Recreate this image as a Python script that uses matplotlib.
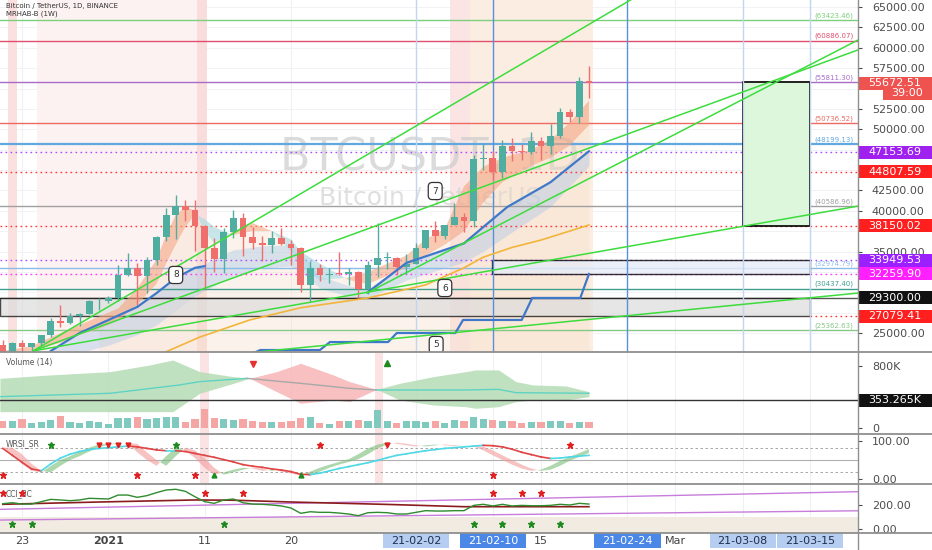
import numpy as np
import matplotlib
matplotlib.use("Agg")
import matplotlib.pyplot as plt
import matplotlib.transforms as mtransforms
from matplotlib.patches import Rectangle
from matplotlib.lines import Line2D

# ---- daily candles, index 0 = 2020-12-21 ----
opens = [23475, 22720, 23811, 23232, 23729, 24712, 26493, 26282, 27079, 27385, 28876, 28924, 29332,
         32176, 33000, 31990, 33950, 36769, 39432, 40587, 40088, 38150, 35410, 34049, 37371, 39145,
         36737, 35995, 35825, 36622, 35902, 35468, 30852, 32950, 32078, 32259, 32254, 32464, 30362,
         33368, 34246, 34263, 33093, 33517, 35473, 37620, 36937, 38289, 39181, 38796, 46374, 46420,
         44808, 47969, 47298, 47157, 48580, 47911, 49133, 52118, 51553, 55906]
highs = [24103, 23837, 24100, 23790, 24790, 26867, 28422, 27500, 27410, 28996, 29300, 29600, 33300,
         34778, 33600, 34360, 36939, 40365, 41950, 41380, 41350, 38265, 36628, 37850, 40100, 39748,
         37950, 36853, 37470, 37850, 36415, 35600, 33827, 33456, 32944, 34882, 32922, 32557, 33784,
         38532, 34933, 34343, 34717, 35984, 37663, 38708, 38310, 40956, 39700, 46794, 48142, 47310,
         48679, 48986, 48150, 49707, 49011, 50603, 52619, 52530, 56368, 57700]
lows = [21815, 22353, 22600, 22703, 23434, 24500, 25700, 26101, 25880, 27320, 27850, 28625, 28947,
        31963, 28130, 29900, 33288, 36300, 36500, 38720, 35111, 30420, 32531, 32380, 36701, 34408,
        35358, 33850, 34800, 35844, 33400, 30071, 28850, 31390, 31106, 32068, 30837, 29242, 29842,
        31915, 32825, 32172, 32296, 33418, 35362, 36162, 36570, 38216, 37351, 37989, 44961, 43727,
        43994, 46125, 46203, 47014, 46175, 47004, 48947, 50902, 50710, 53864]
closes = [22720, 23811, 23233, 23729, 24712, 26493, 26282, 27079, 27385, 28876, 28924, 29332, 32178,
          33000, 31989, 33950, 36769, 39432, 40583, 40088, 38150, 35404, 34051, 37371, 39145, 36742,
          35995, 35829, 36631, 35891, 35468, 30850, 32945, 32078, 32260, 32254, 32468, 30366, 33365,
          34252, 34263, 33093, 33526, 35466, 37619, 36937, 38290, 39187, 38796, 46375, 46420, 44808,
          47970, 47288, 47154, 48578, 47911, 49133, 52120, 51553, 55906, 55673]
volume_k = [86, 90, 112, 65, 73, 95, 147, 73, 65, 90, 78, 48, 121, 121, 138, 112, 125, 134, 134, 73,
            108, 241, 121, 117, 99, 112, 86, 69, 69, 78, 86, 125, 138, 56, 52, 86, 86, 95, 86, 228,
            86, 60, 82, 82, 78, 90, 65, 99, 86, 134, 112, 99, 82, 82, 60, 69, 69, 86, 86, 60, 73, 73]

# ---- overlays (day index, price) ----
rib_days = [0, 3, 6, 8, 10, 12, 14, 16, 17, 18, 19, 20, 21, 22, 24, 26, 28, 30, 31, 33, 36, 38, 40,
            42, 44, 46, 48, 50, 52, 55, 57, 59, 61]
rib_fast = [22800, 23400, 25000, 26000, 27000, 28000, 30500, 34000, 37000, 39500, 40500, 40000, 37500,
            36000, 37500, 38500, 37500, 35000, 33000, 31500, 31800, 32500, 33500, 34500, 36500, 37800,
            43000, 45400, 46500, 47500, 48700, 50800, 53500]
rib_slow = [22500, 22800, 23800, 24800, 25500, 26500, 28500, 31000, 33500, 35800, 38000, 39500, 39000,
            38000, 37000, 37500, 37500, 36500, 35000, 33500, 31500, 31000, 32000, 33000, 34500, 35800,
            37500, 41000, 43500, 45500, 46500, 48000, 50500]

blue_days1 = [5, 8, 11, 14, 16, 18, 20, 21]
blue_vals1 = [22800, 25000, 26600, 28200, 29900, 31750, 33000, 33200]
blue_days2 = [38, 42, 48, 50, 52.5, 57, 61]
blue_vals2 = [30000, 33600, 36000, 38000, 40460, 43500, 47300]
cloud_days = [3, 5, 8, 11, 14, 16, 18, 20, 21, 24, 27, 30, 31, 33, 36, 38, 42, 48, 50, 52.5, 57, 61]
cloud_top = [22000, 22800, 25000, 26600, 28200, 29900, 31750, 33000, 33500, 35200, 35700, 35800, 34800,
             32000, 30800, 30400, 33600, 36000, 38000, 40460, 43500, 47300]
cloud_bot = [21500, 21800, 22600, 23500, 24800, 26000, 27800, 29500, 30200, 32000, 33000, 33200, 32500,
             30500, 29500, 29200, 31500, 33700, 35000, 37000, 40500, 45500]

yel_days = [17, 20.5, 25.7, 31, 38, 44, 48, 50, 53, 56, 61]
yel_vals = [22700, 24500, 26600, 28100, 29300, 30900, 33000, 34300, 35500, 36400, 38250]

step_days = [26.0, 26.8, 33.0, 34.05, 40.1, 41.0, 47.1, 47.9, 54.0, 55.1, 60.1, 61.0]
step_vals = [22500, 22910, 22910, 23890, 23890, 25000, 25000, 26600, 26600, 29300, 29300, 32240]

# green trend rays: start point and a second point on the line
trend_start = [(3.15, 22800), (3.15, 22800), (3.15, 22800), (37.9, 29910), (20.0, 21923)]
trend_thru = [(48.2, 54000), (48.2, 42180), (48.2, 32125), (89.0, 60950), (89.0, 29900)]

level_vals = [63423.46, 60886.07, 55811.30, 50736.52, 48199.13, 40586.96, 32974.79, 30437.40, 25362.63]
level_colors = ['#7ccf7c', '#e0506e', '#a86cc8', '#ec6a62', '#62a8e0', '#a0a0a0', '#8bbbe8', '#3f9f8f',
                '#86c986']
dot_vals = [47153.69, 44807.59, 38150.02, 33949.53, 32259.90]
dot_colors = ['#a64dff', '#ff3333', '#ff3333', '#a64dff', '#ff33ff']

tag_vals = [55672.51, 47153.69, 44807.59, 38150.02, 33949.53, 32259.90, 29300.00, 27079.41]
tag_colors = ['#ef5350', '#a020f0', '#ff1f1f', '#ff1f1f', '#9b1fff', '#ff20ff', '#111111', '#ff1f1f']

callout_text = ['8', '7', '6', '5']
callout_pos = [(18.0, 32120), (45.0, 42420), (46.0, 30520), (45.1, 23530)]

# volume oscillator band (K), three zones
vb_g1_days = [-0.3, 4.9, 11.2, 15.3, 17.7, 20.5, 24.0, 25.7]
vb_g1_up = [641, 685, 728, 815, 879, 728, 663, 641]
vb_g1_lo = [208, 208, 208, 208, 208, 447, 576, 641]
vb_r_days = [25.7, 28.5, 31.0, 34.4, 36.1, 38.9]
vb_r_up = [641, 728, 836, 685, 598, 498]
vb_r_lo = [641, 468, 317, 360, 338, 498]
vb_g2_days = [38.9, 41.3, 44.8, 48.2, 49.2, 51.6, 53.4, 55.2, 58.6, 61.0]
vb_g2_up = [498, 576, 663, 728, 750, 750, 598, 555, 542, 468]
vb_g2_lo = [498, 360, 295, 273, 252, 273, 338, 360, 360, 403]
vc_days = [-0.3, 11.2, 18.4, 20.5, 25.4, 31.0, 36.1, 38.9, 48.2, 51.6, 53.4, 61.0]
vc_vals = [403, 447, 555, 598, 641, 576, 511, 490, 490, 498, 455, 447]

# WRSI
wrsi_slow = [80, 62, 44, 27, 22, 40, 55, 65, 72, 77, 80, 82, 84, 86, 84, 80, 76, 74, 74, 72, 67, 62,
             57, 51, 45, 38, 34, 31, 27, 24, 20, 13, 12, 16, 22, 28, 33, 38, 43, 49, 56, 62, 66, 70,
             74, 77, 80, 82, 84, 86, 88, 87, 84, 78, 70, 64, 58, 54, 55, 58, 60, 62]
wrsi_fast = [82, 65, 40, 22, 18, 35, 50, 60, 72, 82, 90, 92, 93, 92, 70, 50, 35, 60, 82, 75, 55, 30,
             12, 18, 25, 30, 28, 22, 25, 20, 15, 10, 20, 30, 38, 45, 52, 65, 80, 90, 95, 92, 88, 85,
             88, 90, 88, 86, 86, 85, 75, 62, 50, 38, 28, 22, 25, 35, 48, 58, 68, 78]

# CCI
cci_vals = [211, 219, 208, 208, 228, 247, 242, 236, 242, 256, 253, 250, 283, 283, 264, 278, 303, 325,
            331, 314, 269, 228, 214, 242, 250, 219, 208, 206, 200, 192, 175, 131, 144, 139, 139, 133,
            125, 111, 136, 139, 136, 125, 125, 139, 153, 150, 150, 153, 153, 197, 206, 192, 206, 192,
            197, 194, 194, 197, 206, 200, 214, 208]
sig_days = [0, 10, 20, 24, 30, 40, 48, 61]
sig_vals = [206, 225, 242, 240, 225, 205, 186, 186]

# date axis
tick_days = [2, 11, 21, 30, 43, 51, 56, 65, 70, 77, 84]
tick_text = ['23', '2021', '11', '20', '21-02-02', '21-02-10', '15', '21-02-24', 'Mar', '21-03-08',
             '21-03-15']

# price scale ticks left visible next to the coloured tags
price_ticks = [25000, 35000, 40000, 42500, 50000, 52500, 57500, 60000, 62500, 65000]

W, H = 932, 550
XMIN, XMAX = -0.29, 89.0
UP, DOWN = '#4fae9f', '#ef6f6c'


def px_rect(x0, y0, x1, y1):
    return [x0 / W, 1 - y1 / H, (x1 - x0) / W, (y1 - y0) / H]


def setup(a, ylim, yticks, ylabels):
    a.set_xlim(XMIN, XMAX)
    a.set_ylim(*ylim)
    for s in a.spines.values():
        s.set_visible(False)
    a.set_xticks([])
    a.yaxis.tick_right()
    a.set_yticks(yticks)
    a.set_yticklabels(ylabels)
    a.tick_params(axis='y', labelsize=8, colors='#4d4d4d', length=3, pad=7)
    for d in tick_days:
        a.axvline(d, color='#eef0f4', lw=0.8, zorder=0)


def tag(a, val, text, bg, h, x0=1.0, fg='white'):
    tr = mtransforms.blended_transform_factory(a.transAxes, a.transData)
    a.add_patch(Rectangle((x0, val - h / 2), 1.0862 - x0, h, transform=tr, fc=bg, ec='none',
                          clip_on=False, zorder=10))
    a.text((x0 + 1.0862) / 2, val, text, transform=tr, color=fg, fontsize=8, ha='center',
           va='center', clip_on=False, zorder=11)


fig = plt.figure(figsize=(W / 100, H / 100), dpi=100)
ax = fig.add_axes(px_rect(0, 0, 858, 352))
axv = fig.add_axes(px_rect(0, 352, 858, 434))
axr = fig.add_axes(px_rect(0, 434, 858, 484))
axc = fig.add_axes(px_rect(0, 484, 858, 533))

idx = np.arange(len(closes))
o, hi, lo, c = map(np.array, (opens, highs, lows, closes))
cols = np.where(c >= o, UP, DOWN)

# ---------------- main price panel ----------------
setup(ax, (22669, 65859), price_ticks, [f'{p:.2f}' for p in price_ticks])
for p in np.arange(25000, 65001, 2500):
    ax.axhline(p, color='#f0f2f6', lw=0.7, zorder=0)

for x0, x1, col in [(0.5, 1.5, '#fbe0e0'), (3.6, 20.2, '#fdf2f2'), (20.2, 21.2, '#f9dcdc'),
                    (46.5, 48.6, '#fbe4e4'), (48.6, 61.4, '#fcede3')]:
    ax.axvspan(x0, x1, color=col, lw=0, zorder=0)

ax.text(44.45, 46595, 'BTCUSDT, 1D', fontsize=32, color='#cccccc', alpha=0.7, ha='center',
        va='center', zorder=1)
ax.text(44.45, 41687, 'Bitcoin / TetherUS', fontsize=18, color='#d2d2d2', alpha=0.7, ha='center',
        va='center', zorder=1)

# beige cloud under the ribbon
ax.fill_between(rib_days[4:], rib_slow[4:], 22669, color='#f6dfc6', alpha=0.35, lw=0, zorder=1)
ax.fill_between(cloud_days, cloud_top, cloud_bot, color='#a9c6e8', alpha=0.42, lw=0, zorder=1.2)

for v, col in zip(level_vals, level_colors):
    ax.axhline(v, color=col, lw=1.6 if v == 48199.13 else 1.0, zorder=2)
    ax.text(86.5, v + 150, f'({v:.2f})', color=col, fontsize=5, ha='center', va='bottom', zorder=2)
for v, col in zip(dot_vals, dot_colors):
    ax.axhline(v, color=col, lw=1.0, ls=(0, (1.2, 2.4)), zorder=2)
ax.plot([84, XMAX], [27079.41, 27079.41], color='#ff3333', lw=1.0, ls=(0, (1.2, 2.4)), zorder=2)
ax.axhline(29300, color='#555555', lw=1.0, zorder=2)

ax.add_patch(Rectangle((XMIN, 27079.41), 84 - XMIN, 29300 - 27079.41, fc='#dcdcdc', alpha=0.7,
                       ec='black', lw=1, zorder=2))
ax.add_patch(Rectangle((50.9, 32259.90), 84 - 50.9, 33949.53 - 32259.90, fc='#e6ecf8', alpha=0.8,
                       ec='black', lw=1, zorder=2))
ax.add_patch(Rectangle((77, 38150.02), 7, 55811.30 - 38150.02, fc='#dcf7dc', ec='black', lw=1.2,
                       zorder=2))

for d, col in [(43, '#c2d6f2'), (51, '#5b8fd9'), (65, '#5b8fd9'), (77, '#c2d6f2'), (84, '#c2d6f2')]:
    ax.axvline(d, color=col, lw=1, zorder=2)

rf, rs = np.array(rib_fast), np.array(rib_slow)
ax.fill_between(rib_days, rf, rs, where=rf >= rs, interpolate=True, color='#f5a57f', alpha=0.6, lw=0,
                zorder=2.5)
ax.fill_between(rib_days, rf, rs, where=rf < rs, interpolate=True, color='#a6dce8', alpha=0.6, lw=0,
                zorder=2.5)

ax.vlines(idx, lo, hi, colors=cols, lw=1, zorder=3)
ax.bar(idx, np.maximum(np.abs(c - o), 100), bottom=np.minimum(o, c), width=0.7, color=cols, zorder=3.1)

ax.plot(blue_days1, blue_vals1, color='#3f78c8', lw=1.6, zorder=3.5)
ax.plot(blue_days2, blue_vals2, color='#3f78c8', lw=1.6, zorder=3.5)
ax.plot(yel_days, yel_vals, color='#f2b53a', lw=1.2, zorder=3.5)
ax.plot(step_days, step_vals, color='#3f78c8', lw=1.6, zorder=3.5)

for (xa, ya), (xb, yb) in zip(trend_start, trend_thru):
    k = (yb - ya) / (xb - xa)
    ax.plot([xa, XMAX], [ya, ya + k * (XMAX - xa)], color='#3ddc3d', lw=1.1, zorder=4)

for t, (x, y) in zip(callout_text, callout_pos):
    ax.text(x, y, t, fontsize=6.5, color='#333333', ha='center', va='center', zorder=5,
            bbox=dict(boxstyle='round,pad=0.45', fc='white', ec='#333333', lw=0.9))

for v, col in zip(tag_vals, tag_colors):
    tag(ax, v, f'{v:.2f}', col, 1595)
tag(ax, 54410, '39:00', '#ef5350', 1595, x0=883 / 858)

fig.text(6 / W, 1 - 6 / H, 'Bitcoin / TetherUS, 1D, BINANCE', fontsize=5, color='#333333', va='center')
fig.text(6 / W, 1 - 13.5 / H, 'MRHAB-B (1W)', fontsize=5, color='#333333', va='center')

# ---------------- volume panel ----------------
setup(axv, (-82, 983), [0, 800], ['0', '800K'])
for x0, x1 in [(20.5, 21.5), (38.7, 39.6)]:
    axv.axvspan(x0, x1, color='#fbe3e3', lw=0, zorder=0)
axv.fill_between(vb_g1_days, vb_g1_up, vb_g1_lo, color='#b5dcb5', alpha=0.85, lw=0, zorder=1)
axv.fill_between(vb_r_days, vb_r_up, vb_r_lo, color='#f7b5b5', alpha=0.85, lw=0, zorder=1)
axv.fill_between(vb_g2_days, vb_g2_up, vb_g2_lo, color='#b5dcb5', alpha=0.85, lw=0, zorder=1)
axv.plot(vc_days[:5], vc_vals[:5], color='#5fd3c3', lw=1, zorder=2)
axv.plot(vc_days[4:8], vc_vals[4:8], color='#a8a8a8', lw=1, zorder=2)
axv.plot(vc_days[7:], vc_vals[7:], color='#5fd3c3', lw=1, zorder=2)
axv.axhline(353.265, color='#333333', lw=1, zorder=2)
axv.bar(idx, volume_k, width=0.75, color=np.where(c >= o, '#80c9bf', '#f4a6a4'), zorder=3)
axv.plot([26], [827], marker='v', color='#e53030', ms=4, zorder=4)
axv.plot([40], [836], marker='^', color='#1e8a1e', ms=4, zorder=4)
axv.text(0.007, 0.93, 'Volume (14)', transform=axv.transAxes, fontsize=5.5, color='#555555', va='top')
tag(axv, 353.265, '353.265K', '#111111', 169)

# ---------------- WRSI panel ----------------
setup(axr, (-12.1, 117.3), [0, 100], ['0.00', '100.00'])
for x0, x1 in [(20.5, 21.5), (38.7, 39.6)]:
    axr.axvspan(x0, x1, color='#fbe3e3', lw=0, zorder=0)
axr.axhline(80, color='#9a9a9a', lw=0.6, ls=(0, (3, 3)), zorder=1)
axr.axhline(20, color='#9a9a9a', lw=0.6, ls=(0, (3, 3)), zorder=1)
axr.axhline(50, color='#b0b0b0', lw=0.8, zorder=1)
wf = np.array(wrsi_fast)
wf_lag = np.r_[wf[0], wf[:-1]]
axr.fill_between(idx, wf, wf_lag, where=wf >= wf_lag, interpolate=True, color='#79bd79', alpha=0.6,
                 lw=0, zorder=2)
axr.fill_between(idx, wf, wf_lag, where=wf < wf_lag, interpolate=True, color='#f19a9a', alpha=0.6,
                 lw=0, zorder=2)
ws = np.array(wrsi_slow)
for i in range(len(ws) - 1):
    col = '#4fd8e6' if ws[i + 1] >= ws[i] else '#e04444'
    axr.plot(idx[i:i + 2], ws[i:i + 2], color=col, lw=1.2, zorder=3)
axr.plot([10, 11, 12, 13, 40], [90] * 5, 'v', color='#e02020', ms=3.5, zorder=4)
axr.plot([5, 18], [90, 90], '*', color='#1e8a1e', ms=4.5, zorder=4)
axr.plot([33, 59], [90, 90], '*', color='#e02020', ms=4.5, zorder=4)
axr.plot([0, 14, 20, 51], [10] * 4, '*', color='#e02020', ms=4.5, zorder=4)
axr.plot([22, 31], [11, 11], '^', color='#1e8a1e', ms=3.5, zorder=4)
axr.text(0.007, 0.9, 'WRSI_SR', transform=axr.transAxes, fontsize=5.5, color='#555555', va='top')

# ---------------- CCI panel ----------------
setup(axc, (-33, 375), [0, 200], ['0.00', '200.00'])
axc.axhspan(-100, 100, color='#f1ebe2', lw=0, zorder=0.5)
axc.plot([XMIN, XMAX], [164, 311], color='#c77ddb', lw=1, zorder=1)
axc.plot([XMIN, XMAX], [75, 152], color='#c77ddb', lw=1, zorder=1)
axc.plot(sig_days, sig_vals, color='#8b1c1c', lw=1.2, zorder=2)
axc.plot(idx, cci_vals, color='#2e8b2e', lw=1, zorder=3)
axc.plot([0, 2, 21, 25, 51, 54, 56], [297] * 7, '*', color='#e02020', ms=4.5, zorder=4)
axc.plot([1, 3, 23, 49, 52, 55, 58], [39] * 7, '*', color='#1e8a1e', ms=4.5, zorder=4)
axc.text(0.007, 0.9, 'CCI_BC', transform=axc.transAxes, fontsize=5.5, color='#555555', va='top')

# date labels under the last panel
trd = mtransforms.blended_transform_factory(axc.transData, axc.transAxes)
box_style = {'21-02-02': ('#b4cdf0', '#1f2f4f'), '21-02-10': ('#4a87e6', 'white'),
             '21-02-24': ('#4a87e6', 'white'), '21-03-08': ('#b4cdf0', '#1f2f4f'),
             '21-03-15': ('#b4cdf0', '#1f2f4f')}
for d, t in zip(tick_days, tick_text):
    if t in box_style:
        bg, fg = box_style[t]
        axc.add_patch(Rectangle((d - 3.45, -0.296), 6.9, 0.286, transform=trd, fc=bg, ec='none',
                                clip_on=False, zorder=5))
    else:
        fg = '#444444'
    axc.text(d, -0.163, t, transform=trd, fontsize=8, color=fg, ha='center', va='center',
             fontweight='bold' if t == '2021' else 'normal', clip_on=False, zorder=6)

# pane separators and price-scale border
for ypx in [352, 434, 484, 533]:
    fig.add_artist(Line2D([0, 1], [1 - ypx / H] * 2, color='#8f8f8f', lw=1.3))
fig.add_artist(Line2D([858 / W] * 2, [0, 1], color='#8f8f8f', lw=1))

fig.savefig('out.png', dpi=100)
